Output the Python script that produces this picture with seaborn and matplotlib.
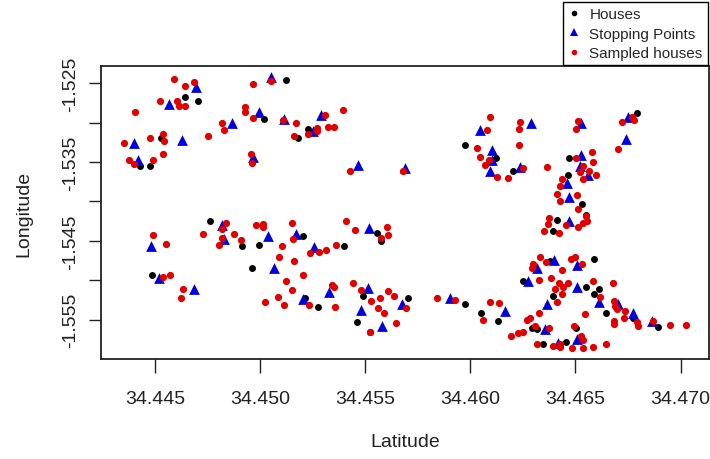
import numpy as np
import pandas as pd
import matplotlib
matplotlib.use("Agg")
import matplotlib.pyplot as plt
from matplotlib.lines import Line2D
import seaborn as sns


# ==========================================
# DATA
# ==========================================

houses_lat = [
    34.45126, 34.44642, 34.44707, 34.45019, 34.44528, 34.45182, 34.45228, 34.44430, 34.44478, 34.45976,
    34.46122, 34.46205, 34.46794, 34.46468, 34.46466, 34.44760, 34.44487, 34.44914, 34.44997, 34.44962,
    34.45204, 34.45215, 34.45275, 34.45398, 34.45557, 34.45576, 34.45492, 34.45705, 34.45459, 34.45525,
    34.45976, 34.46049, 34.46133, 34.46250, 34.46295, 34.46348, 34.46533, 34.46550, 34.46411, 34.46392,
    34.46379, 34.46588, 34.46550, 34.46612, 34.46590, 34.46392, 34.46645, 34.46773, 34.46893, 34.46316,
    34.46503, 34.46455,
]
houses_lon = [
    -1.5246, -1.5268, -1.5273, -1.5295, -1.5319, -1.5320, -1.5308, -1.5355, -1.5355, -1.5329,
    -1.5345, -1.5361, -1.5288, -1.5345, -1.5367, -1.5425, -1.5493, -1.5457, -1.5455, -1.5485,
    -1.5444, -1.5522, -1.5534, -1.5457, -1.5440, -1.5450, -1.5520, -1.5523, -1.5553, -1.5565,
    -1.5530, -1.5541, -1.5552, -1.5501, -1.5561, -1.5581, -1.5403, -1.5417, -1.5424, -1.5437,
    -1.5475, -1.5473, -1.5508, -1.5511, -1.5517, -1.5520, -1.5542, -1.5548, -1.5559, -1.5562,
    -1.5561, -1.5578,
]

stops_lat = [
    34.44695, 34.45054, 34.44565, 34.44995, 34.45114, 34.45291, 34.44869, 34.44399, 34.44631, 34.44418,
    34.44968, 34.45251, 34.45465, 34.45688, 34.46044, 34.46288, 34.46101, 34.46101, 34.46095, 34.46237,
    34.46525, 34.46748, 34.46739, 34.46525, 34.46522, 34.46561, 34.46459, 34.44482, 34.44522, 34.44684,
    34.44821, 34.44831, 34.45038, 34.45066, 34.45171, 34.45256, 34.45204, 34.45329, 34.45517, 34.45514,
    34.45478, 34.45674, 34.45579, 34.45905, 34.46167, 34.46276, 34.46318, 34.46364, 34.46356, 34.46470,
    34.46470, 34.46400, 34.46508, 34.46508, 34.46612, 34.46704, 34.46775, 34.46864, 34.46508, 34.46416,
]
stops_lon = [
    -1.5255, -1.5242, -1.5277, -1.5287, -1.5296, -1.5291, -1.5301, -1.5326, -1.5322, -1.5347,
    -1.5343, -1.5311, -1.5354, -1.5357, -1.5309, -1.5300, -1.5335, -1.5347, -1.5362, -1.5356,
    -1.5300, -1.5293, -1.5321, -1.5341, -1.5355, -1.5366, -1.5377, -1.5456, -1.5497, -1.5511,
    -1.5430, -1.5448, -1.5444, -1.5484, -1.5441, -1.5458, -1.5524, -1.5515, -1.5434, -1.5510,
    -1.5538, -1.5530, -1.5558, -1.5523, -1.5539, -1.5501, -1.5485, -1.5530, -1.5562, -1.5394,
    -1.5425, -1.5474, -1.5480, -1.5509, -1.5527, -1.5530, -1.5542, -1.5552, -1.5574, -1.5579,
]

sampled_lat = [
    34.44589, 34.44642, 34.44684, 34.44967, 34.45054, 34.44524, 34.44606, 34.44615, 34.44642, 34.44405,
    34.44930, 34.44930, 34.44967, 34.45111, 34.45169, 34.45310, 34.45397, 34.44819, 34.44831, 34.44753,
    34.44478, 34.44539, 34.44543, 34.44351, 34.44377, 34.44400, 34.44489, 34.44537, 34.44959, 34.44964,
    34.45161, 34.45226, 34.45269, 34.45272, 34.45322, 34.45351, 34.45427, 34.45680, 34.46095, 34.46079,
    34.46237, 34.46232, 34.46032, 34.46047, 34.46087, 34.46071, 34.46232, 34.46126, 34.46179, 34.46250,
    34.46367, 34.46511, 34.46503, 34.46721, 34.46780, 34.46767, 34.46704, 34.46580, 34.46503, 34.46585,
    34.46537, 34.46566, 34.46522, 34.46596, 34.46537, 34.46435, 34.46427, 34.44489, 34.44554, 34.44541,
    34.44573, 34.44636, 34.44623, 34.44731, 34.44836, 34.44819, 34.44819, 34.44807, 34.44874, 34.44908,
    34.44983, 34.45014, 34.45014, 34.45150, 34.45156, 34.45103, 34.45092, 34.45163, 34.45204, 34.45126,
    34.45150, 34.45085, 34.45025, 34.45114, 34.45234, 34.45239, 34.45282, 34.45312, 34.45362, 34.45410,
    34.45340, 34.45351, 34.45359, 34.45453, 34.45606, 34.45611, 34.45573, 34.45444, 34.45479, 34.45528,
    34.45569, 34.45611, 34.45636, 34.45563, 34.45588, 34.45695, 34.45647, 34.45522, 34.45840, 34.45929,
    34.46095, 34.46136, 34.46060, 34.46350, 34.46371, 34.46376, 34.46332, 34.46300, 34.46359, 34.46326,
    34.46326, 34.46285, 34.46269, 34.46308, 34.46194, 34.46229, 34.46250, 34.46319, 34.46414, 34.46509,
    34.46427, 34.46511, 34.46421, 34.46455, 34.46514, 34.46535, 34.46550, 34.46556, 34.46295, 34.46438,
    34.46478, 34.46500, 34.46533, 34.46383, 34.46421, 34.46466, 34.46443, 34.46402, 34.46438, 34.46414,
    34.46585, 34.46680, 34.46617, 34.46683, 34.46688, 34.46696, 34.46735, 34.46732, 34.46685, 34.46685,
    34.46791, 34.46796, 34.46546, 34.46375, 34.46493, 34.46527, 34.46537, 34.46395, 34.46427, 34.46427,
    34.46482, 34.46535, 34.46585, 34.46645, 34.46952, 34.47028, 34.46870,
]
sampled_lon = [
    -1.5245, -1.5253, -1.5248, -1.5251, -1.5247, -1.5273, -1.5273, -1.5279, -1.5279, -1.5287,
    -1.5280, -1.5287, -1.5294, -1.5297, -1.5300, -1.5290, -1.5284, -1.5300, -1.5310, -1.5317,
    -1.5320, -1.5314, -1.5323, -1.5326, -1.5348, -1.5353, -1.5348, -1.5340, -1.5340, -1.5351,
    -1.5317, -1.5314, -1.5307, -1.5311, -1.5306, -1.5306, -1.5361, -1.5361, -1.5293, -1.5310,
    -1.5299, -1.5308, -1.5332, -1.5344, -1.5348, -1.5354, -1.5329, -1.5369, -1.5370, -1.5358,
    -1.5356, -1.5298, -1.5308, -1.5299, -1.5297, -1.5293, -1.5334, -1.5337, -1.5345, -1.5350,
    -1.5355, -1.5361, -1.5363, -1.5367, -1.5372, -1.5372, -1.5380, -1.5443, -1.5454, -1.5496,
    -1.5493, -1.5511, -1.5523, -1.5441, -1.5427, -1.5435, -1.5446, -1.5455, -1.5441, -1.5449,
    -1.5430, -1.5428, -1.5432, -1.5427, -1.5448, -1.5457, -1.5471, -1.5476, -1.5493, -1.5501,
    -1.5512, -1.5521, -1.5528, -1.5531, -1.5531, -1.5465, -1.5464, -1.5462, -1.5455, -1.5425,
    -1.5506, -1.5509, -1.5534, -1.5436, -1.5433, -1.5443, -1.5446, -1.5503, -1.5512, -1.5526,
    -1.5523, -1.5514, -1.5520, -1.5535, -1.5542, -1.5535, -1.5554, -1.5566, -1.5522, -1.5525,
    -1.5528, -1.5529, -1.5550, -1.5437, -1.5428, -1.5421, -1.5471, -1.5479, -1.5477, -1.5499,
    -1.5541, -1.5548, -1.5550, -1.5558, -1.5570, -1.5567, -1.5566, -1.5581, -1.5390, -1.5392,
    -1.5399, -1.5409, -1.5440, -1.5430, -1.5432, -1.5427, -1.5419, -1.5425, -1.5484, -1.5487,
    -1.5473, -1.5471, -1.5479, -1.5497, -1.5503, -1.5504, -1.5509, -1.5511, -1.5517, -1.5528,
    -1.5501, -1.5504, -1.5521, -1.5526, -1.5532, -1.5536, -1.5539, -1.5548, -1.5551, -1.5555,
    -1.5553, -1.5558, -1.5543, -1.5561, -1.5558, -1.5570, -1.5576, -1.5583, -1.5581, -1.5585,
    -1.5586, -1.5586, -1.5585, -1.5581, -1.5557, -1.5557, -1.5552,
]

x_ticks = [34.445, 34.450, 34.455, 34.460, 34.465, 34.470]
x_tick_labels = ["34.445", "34.450", "34.455", "34.460", "34.465", "34.470"]
y_ticks = [-1.525, -1.530, -1.535, -1.540, -1.545, -1.550, -1.555]
y_tick_labels = ["-1.525", "", "-1.535", "", "-1.545", "", "-1.555"]

legend_labels = ["Houses", "Stopping Points", "Sampled houses"]

BLACK = "black"
BLUE = "#0000dd"
RED = "#e00000"


# ==========================================
# FRAMES
# ==========================================

houses = pd.DataFrame({"Latitude": houses_lat, "Longitude": houses_lon})
stops = pd.DataFrame({"Latitude": stops_lat, "Longitude": stops_lon})
sampled = pd.DataFrame({"Latitude": sampled_lat, "Longitude": sampled_lon})

all_points = pd.concat([houses, stops, sampled])


# ==========================================
# PLOT
# ==========================================

sns.set_style("white")
plt.rcParams["font.family"] = ["Liberation Sans", "DejaVu Sans"]

fig = plt.figure(figsize=(7.1, 4.6), dpi=100)
ax = fig.add_axes([101 / 710, 100 / 460, 608 / 710, 293 / 460])

sns.scatterplot(data=houses, x="Latitude", y="Longitude", color=BLACK,
                marker="o", s=25, linewidth=0, ax=ax, zorder=2)
sns.scatterplot(data=stops, x="Latitude", y="Longitude", color=BLUE,
                marker="^", s=60, linewidth=0, ax=ax, zorder=3)
sns.scatterplot(data=sampled, x="Latitude", y="Longitude", color=RED,
                marker="o", s=27, linewidth=0, ax=ax, zorder=4)

# R style axis range: data range plus 4 percent each side
x_min, x_max = all_points["Latitude"].min(), all_points["Latitude"].max()
y_min, y_max = all_points["Longitude"].min(), all_points["Longitude"].max()
x_pad = (x_max - x_min) * 0.04
y_pad = (y_max - y_min) * 0.04
ax.set_xlim(x_min - x_pad, x_max + x_pad)
ax.set_ylim(y_min - y_pad, y_max + y_pad)

ax.set_xticks(x_ticks)
ax.set_xticklabels(x_tick_labels)
ax.set_yticks(y_ticks)
ax.set_yticklabels(y_tick_labels, rotation=90, va="center")

ax.tick_params(axis="x", length=10, width=1, pad=12, labelsize=14,
               colors="#222222", bottom=True)
ax.tick_params(axis="y", length=8.5, width=1, pad=7, labelsize=14,
               colors="#222222", left=True)

for spine in ax.spines.values():
    spine.set_visible(True)
    spine.set_color("#222222")
    spine.set_linewidth(1.3)

ax.set_xlabel("Latitude", fontsize=14, labelpad=19, color="#222222")
ax.set_ylabel("Longitude", fontsize=14, labelpad=22, color="#222222")

handles = [
    Line2D([], [], linestyle="", marker="o", markersize=4,
           markerfacecolor=BLACK, markeredgewidth=0),
    Line2D([], [], linestyle="", marker="^", markersize=5.5,
           markerfacecolor=BLUE, markeredgewidth=0),
    Line2D([], [], linestyle="", marker="o", markersize=4,
           markerfacecolor=RED, markeredgewidth=0),
]

legend = fig.legend(handles, legend_labels, loc="upper right",
                    bbox_to_anchor=(708 / 710, 1 - 3 / 460),
                    frameon=True, fancybox=False, framealpha=1,
                    edgecolor="black", fontsize=11, handlelength=0.8,
                    handletextpad=0.6, labelspacing=0.35, borderpad=0.35,
                    borderaxespad=0)
legend.get_frame().set_linewidth(1.0)

fig.savefig("out.png", dpi=100)
